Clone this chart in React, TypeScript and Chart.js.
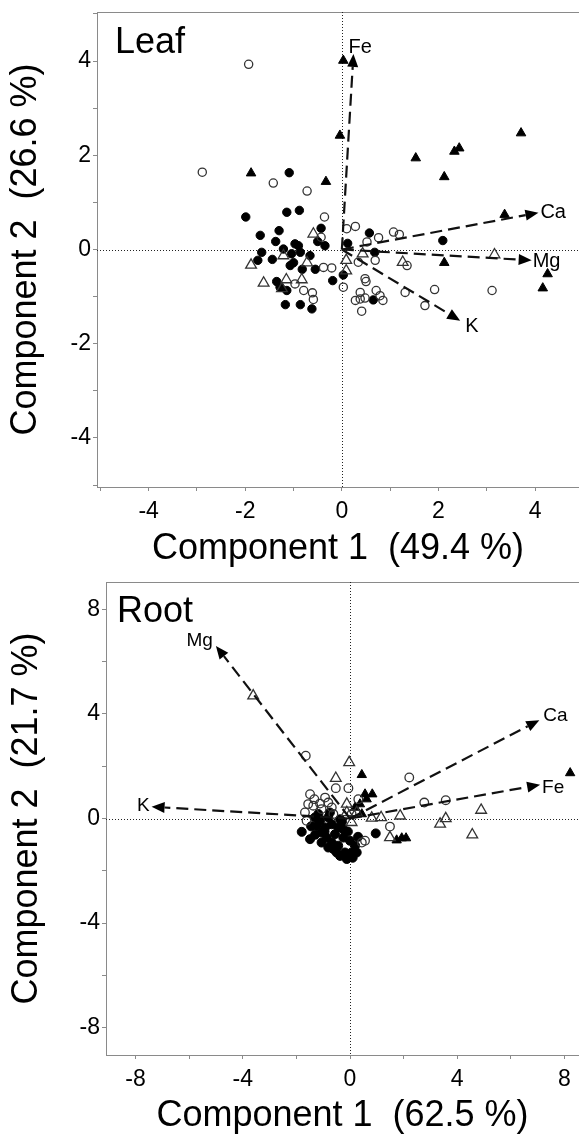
import React, { useEffect, useRef } from 'react';
import { Chart, registerables } from 'chart.js';

Chart.register(...registerables);

const FONT = "'Liberation Sans', Arial, Helvetica, sans-serif";

// ---------------- Leaf (PCA scores) ----------------
const LEAF_FILLED_CIRCLE_X = [-1.09, -1.99, -1.14, -0.88, -1.69, -1.30, -1.37, -0.43, -0.50, -0.35, -0.97, -1.21, -1.66, -1.74, -1.44, -1.04, -0.86, -0.66, -1.07, -1.00, -0.82, -0.55, -1.35, -1.28, -1.14, -1.17, -0.86, -0.62, -0.19, 0.03, 0.57, 0.12, 0.68, 2.09, 0.65, -0.90];
const LEAF_FILLED_CIRCLE_Y = [1.63, 0.69, 0.79, 0.83, 0.30, 0.40, 0.17, 0.45, 0.17, 0.08, 0.12, 0.01, -0.06, -0.23, -0.21, -0.09, -0.06, -0.13, -0.34, -0.28, -0.42, -0.42, -0.68, -0.80, -0.87, -1.17, -1.17, -1.26, -0.66, -0.54, 0.35, 0.13, -0.06, 0.19, -1.07, 0.08];

const LEAF_OPEN_CIRCLE_X = [-1.93, -2.89, -1.42, -0.72, -0.36, -0.43, -0.38, -0.21, -0.97, -0.79, -0.61, -0.59, 0.03, 0.10, 0.28, 0.76, 1.07, 1.19, 0.52, 0.69, 0.34, 1.35, 0.48, 0.38, 0.28, 0.38, 0.48, 0.79, 0.85, 0.41, 1.31, 1.72, 1.92, 3.11, 0.50, 0.71];
const LEAF_OPEN_CIRCLE_Y = [3.93, 1.64, 1.41, 1.24, 0.69, 0.26, -0.38, -0.39, -0.73, -0.87, -0.92, -1.06, -0.80, 0.44, 0.49, 0.25, 0.37, 0.32, 0.16, -0.23, -0.27, -0.34, -0.62, -0.91, -1.08, -1.05, -1.03, -0.98, -1.08, -1.31, -0.91, -1.19, -0.85, -0.87, -0.68, -0.87];

const LEAF_FILLED_TRIANGLE_X = [0.03, -0.04, -1.88, -0.33, 1.53, 2.33, 2.43, 3.71, 2.12, 3.37, 2.12, 4.26, 4.16];
const LEAF_FILLED_TRIANGLE_Y = [4.01, 2.42, 1.62, 1.44, 1.94, 2.08, 2.15, 2.47, 1.54, 0.74, -0.28, -0.52, -0.82];

const LEAF_OPEN_TRIANGLE_X = [-0.59, -1.88, -1.21, -0.72, -1.62, -1.15, -0.83, -1.24, 0.09, 0.09, 0.43, 1.26, 3.16];
const LEAF_OPEN_TRIANGLE_Y = [0.33, -0.33, -0.13, -0.28, -0.71, -0.64, -0.64, -0.83, -0.23, -0.45, -0.09, -0.27, -0.11];

// Leaf loadings (arrows)
const LEAF_VARS = ['Fe', 'Ca', 'Mg', 'K'];
const LEAF_VAR_X = [0.24, 4.07, 3.93, 2.45];
const LEAF_VAR_Y = [4.15, 0.78, -0.23, -1.51];

const LEAF_X_TICKS = [-5, -4, -3, -2, -1, 0, 1, 2, 3, 4];
const LEAF_X_LABELS = [-4, -2, 0, 2, 4];
const LEAF_Y_TICKS = [-5, -4, -3, -2, -1, 0, 1, 2, 3, 4, 5];
const LEAF_Y_LABELS = [-4, -2, 0, 2, 4];

// ---------------- Root (PCA scores) ----------------
const ROOT_FILLED_CIRCLE_X = [-1.80, -1.49, -1.18, -1.12, -1.24, -1.06, -0.93, -0.81, -0.68, -0.87, -0.68, -0.56, -0.44, -0.62, -0.25, -0.19, -0.12, 0.06, 0.19, 0.25, -0.37, -1.31, -0.44, -0.25, 0.00, -0.37, -0.75, -1.06, -0.81, 0.96, 0.10, -0.50, -1.45, -0.30, -0.08, 0.30, -0.95, -1.30];
const ROOT_FILLED_CIRCLE_Y = [-0.51, -0.79, 0.17, -0.09, -0.28, -0.54, -0.34, 0.04, -0.22, -0.73, -0.92, -0.60, -1.04, -1.17, -0.73, -1.30, -1.55, -1.30, -1.04, -1.30, -1.43, 0.04, -0.34, -0.41, -0.85, -0.03, 0.23, -0.92, -1.11, -0.57, -1.50, -1.30, -0.30, -0.12, -0.50, -0.70, -0.50, -0.62];

const ROOT_OPEN_CIRCLE_X = [-1.65, 2.21, 2.77, 3.57, -0.53, -0.06, 1.49, -1.49, -1.33, -1.56, -1.37, -1.12, -0.81, -1.06, -0.68, -1.68, -1.62, -0.62, 0.06, 0.56, 0.44, -0.93, 0.31];
const ROOT_OPEN_CIRCLE_Y = [2.40, 1.57, 0.61, 0.70, 1.16, 1.16, -0.31, 0.93, 0.74, 0.55, 0.49, 0.57, 0.61, 0.36, 0.42, 0.23, -0.09, 0.17, 0.17, -0.85, -0.92, 0.80, 0.74];

const ROOT_FILLED_TRIANGLE_X = [0.44, 8.21, 0.56, 0.83, 0.62, 0.37, 0.19, 0.44, 1.74, 1.93, 2.09];
const ROOT_FILLED_TRIANGLE_Y = [1.67, 1.74, 0.93, 0.93, 0.74, 0.55, 0.42, 0.17, -0.83, -0.75, -0.75];

const ROOT_OPEN_TRIANGLE_X = [-3.61, -0.03, -0.53, 1.87, 4.89, 3.57, 3.36, 4.56, 0.81, 1.16, 1.49, -0.12, -0.12, 0.06, 0.25];
const ROOT_OPEN_TRIANGLE_Y = [4.69, 2.14, 1.54, 0.10, 0.32, 0.00, -0.21, -0.62, 0.02, 0.04, -0.73, 0.55, 0.23, -0.15, 0.23];

// Root loadings (arrows)
const ROOT_VARS = ['Mg', 'Ca', 'Fe', 'K'];
const ROOT_VAR_X = [-5.0, 7.06, 7.09, -7.40];
const ROOT_VAR_Y = [6.6, 3.76, 1.29, 0.45];

const ROOT_X_TICKS = [-8, -6, -4, -2, 0, 2, 4, 6, 8];
const ROOT_X_LABELS = [-8, -4, 0, 4, 8];
const ROOT_Y_TICKS = [-8, -6, -4, -2, 0, 2, 4, 6, 8];
const ROOT_Y_LABELS = [-8, -4, 0, 4, 8];

// ---------------- styles ----------------
type LabelPlace = { dx: number; dy: number; align: CanvasTextAlign };

type PanelSpec = {
  width: number;
  height: number;
  title: string;
  titleDx: number;
  titleDy: number;
  xTitle: string;
  yTitle: string;
  xMin: number;
  xMax: number;
  yMin: number;
  yMax: number;
  xTicks: number[];
  xLabels: number[];
  yTicks: number[];
  yLabels: number[];
  yAxisWidth: number;
  xAxisHeight: number;
  padTop: number;
  xTitlePad: number;
  yTitlePad: number;
  groups: { x: number[]; y: number[]; style: 'circle' | 'triangle'; filled: boolean; radius: number }[];
  vars: string[];
  varX: number[];
  varY: number[];
  varPlace: LabelPlace[];
  varFont: number;
};

const zip = (xs: number[], ys: number[]) => xs.map((x, i) => ({ x, y: ys[i] }));

const LEAF_SPEC: PanelSpec = {
  width: 579,
  height: 570,
  title: 'Leaf',
  titleDx: 18,
  titleDy: 41,
  xTitle: 'Component 1  (49.4 %)',
  yTitle: 'Component 2  (26.6 %)',
  xMin: -5.07,
  xMax: 4.91,
  yMin: -5.04,
  yMax: 5.04,
  xTicks: LEAF_X_TICKS,
  xLabels: LEAF_X_LABELS,
  yTicks: LEAF_Y_TICKS,
  yLabels: LEAF_Y_LABELS,
  yAxisWidth: 97,
  xAxisHeight: 83,
  padTop: 12,
  xTitlePad: 3,
  yTitlePad: 8,
  groups: [
    { x: LEAF_OPEN_CIRCLE_X, y: LEAF_OPEN_CIRCLE_Y, style: 'circle', filled: false, radius: 4.1 },
    { x: LEAF_OPEN_TRIANGLE_X, y: LEAF_OPEN_TRIANGLE_Y, style: 'triangle', filled: false, radius: 6.2 },
    { x: LEAF_FILLED_TRIANGLE_X, y: LEAF_FILLED_TRIANGLE_Y, style: 'triangle', filled: true, radius: 5.5 },
    { x: LEAF_FILLED_CIRCLE_X, y: LEAF_FILLED_CIRCLE_Y, style: 'circle', filled: true, radius: 4.2 },
  ],
  vars: LEAF_VARS,
  varX: LEAF_VAR_X,
  varY: LEAF_VAR_Y,
  varPlace: [
    { dx: -5, dy: -1, align: 'left' },
    { dx: 2, dy: 5, align: 'left' },
    { dx: 1, dy: 7, align: 'left' },
    { dx: 5, dy: 11, align: 'left' },
  ],
  varFont: 20,
};

const ROOT_SPEC: PanelSpec = {
  width: 579,
  height: 565,
  title: 'Root',
  titleDx: 11,
  titleDy: 40,
  xTitle: 'Component 1  (62.5 %)',
  yTitle: 'Component 2  (21.7 %)',
  xMin: -9.1,
  xMax: 8.54,
  yMin: -9.045,
  yMax: 9.045,
  xTicks: ROOT_X_TICKS,
  xLabels: ROOT_X_LABELS,
  yTicks: ROOT_Y_TICKS,
  yLabels: ROOT_Y_LABELS,
  yAxisWidth: 106,
  xAxisHeight: 80,
  padTop: 12,
  xTitlePad: 1,
  yTitlePad: 9,
  groups: [
    { x: ROOT_OPEN_CIRCLE_X, y: ROOT_OPEN_CIRCLE_Y, style: 'circle', filled: false, radius: 4.3 },
    { x: ROOT_OPEN_TRIANGLE_X, y: ROOT_OPEN_TRIANGLE_Y, style: 'triangle', filled: false, radius: 6.2 },
    { x: ROOT_FILLED_TRIANGLE_X, y: ROOT_FILLED_TRIANGLE_Y, style: 'triangle', filled: true, radius: 5.4 },
    { x: ROOT_FILLED_CIRCLE_X, y: ROOT_FILLED_CIRCLE_Y, style: 'circle', filled: true, radius: 4.5 },
  ],
  vars: ROOT_VARS,
  varX: ROOT_VAR_X,
  varY: ROOT_VAR_Y,
  varPlace: [
    { dx: -3, dy: 0, align: 'right' },
    { dx: 4, dy: 1, align: 'left' },
    { dx: 2, dy: 8, align: 'left' },
    { dx: -2, dy: 4, align: 'right' },
  ],
  varFont: 19,
};

const FRAME = '#8a8a8a';

const biplotPlugin = {
  id: 'biplot',
  beforeDatasetsDraw(chart: any) {
    const { ctx, chartArea: a, scales } = chart;
    const xs = scales.x;
    const ys = scales.y;
    ctx.save();
    // top frame line
    ctx.strokeStyle = FRAME;
    ctx.lineWidth = 1;
    ctx.beginPath();
    ctx.moveTo(a.left, a.top + 0.5);
    ctx.lineTo(a.right, a.top + 0.5);
    ctx.stroke();
    // dotted zero lines
    ctx.strokeStyle = '#222';
    ctx.setLineDash([1, 2]);
    const x0 = Math.round(xs.getPixelForValue(0)) + 0.5;
    const y0 = Math.round(ys.getPixelForValue(0)) + 0.5;
    ctx.beginPath();
    ctx.moveTo(x0, a.top);
    ctx.lineTo(x0, a.bottom);
    ctx.moveTo(a.left, y0);
    ctx.lineTo(a.right, y0);
    ctx.stroke();
    ctx.restore();
  },
  afterDatasetsDraw(chart: any, _args: any, opts: any) {
    const spec: PanelSpec = opts.spec;
    const { ctx, chartArea: a, scales } = chart;
    const xs = scales.x;
    const ys = scales.y;
    ctx.save();
    const ox = xs.getPixelForValue(0);
    const oy = ys.getPixelForValue(0);
    spec.vars.forEach((name, i) => {
      const tx = xs.getPixelForValue(spec.varX[i]);
      const ty = ys.getPixelForValue(spec.varY[i]);
      const ang = Math.atan2(ty - oy, tx - ox);
      const L = 13;
      const W = 5.5;
      const bx = tx - L * Math.cos(ang);
      const by = ty - L * Math.sin(ang);
      ctx.strokeStyle = '#111';
      ctx.lineWidth = 2.2;
      ctx.setLineDash([12, 6]);
      ctx.beginPath();
      ctx.moveTo(ox, oy);
      ctx.lineTo(bx, by);
      ctx.stroke();
      ctx.setLineDash([]);
      ctx.fillStyle = '#000';
      ctx.beginPath();
      ctx.moveTo(tx, ty);
      ctx.lineTo(bx + W * Math.sin(ang), by - W * Math.cos(ang));
      ctx.lineTo(bx - W * Math.sin(ang), by + W * Math.cos(ang));
      ctx.closePath();
      ctx.fill();
      const p = spec.varPlace[i];
      ctx.font = `${spec.varFont}px ${FONT}`;
      ctx.textAlign = p.align;
      ctx.textBaseline = 'alphabetic';
      ctx.fillText(name, tx + p.dx, ty + p.dy);
    });
    // panel title
    ctx.fillStyle = '#000';
    ctx.font = `36px ${FONT}`;
    ctx.textAlign = 'left';
    ctx.textBaseline = 'alphabetic';
    ctx.fillText(spec.title, a.left + spec.titleDx, a.top + spec.titleDy);
    ctx.restore();
  },
};

function buildConfig(spec: PanelSpec): any {
  const datasets = spec.groups.map((g) => ({
    data: zip(g.x, g.y),
    pointStyle: g.style,
    pointRadius: g.radius,
    pointHoverRadius: g.radius,
    pointBackgroundColor: g.filled ? '#000' : 'rgba(255,255,255,0)',
    pointBorderColor: g.filled ? '#000' : '#333',
    pointBorderWidth: g.filled ? 1 : 1.3,
    showLine: false,
  }));
  const tickFont = { family: FONT, size: 23 };
  const titleFont = { family: FONT, size: 36, lineHeight: 1 };
  return {
    type: 'scatter',
    data: { datasets },
    plugins: [biplotPlugin],
    options: {
      responsive: false,
      maintainAspectRatio: false,
      animation: false,
      events: [],
      layout: { autoPadding: false, padding: { top: spec.padTop, right: 0, bottom: 0, left: 0 } },
      plugins: {
        legend: { display: false },
        tooltip: { enabled: false },
        biplot: { spec },
      },
      scales: {
        x: {
          type: 'linear',
          position: 'bottom',
          min: spec.xMin,
          max: spec.xMax,
          afterBuildTicks: (s: any) => {
            s.ticks = spec.xTicks.map((v) => ({ value: v }));
          },
          afterFit: (s: any) => {
            s.height = spec.xAxisHeight;
            s.paddingLeft = 0;
            s.paddingRight = 0;
            s.paddingTop = 0;
            s.paddingBottom = 0;
          },
          grid: { drawOnChartArea: false, drawTicks: true, tickLength: 4, color: FRAME, tickColor: FRAME },
          border: { display: true, color: FRAME, width: 1 },
          ticks: {
            autoSkip: false,
            maxRotation: 0,
            padding: 7,
            color: '#000',
            font: tickFont,
            callback: (v: number) => (spec.xLabels.includes(v) ? String(v) : ''),
          },
          title: {
            display: true,
            text: spec.xTitle,
            color: '#000',
            font: titleFont,
            padding: { top: 0, bottom: spec.xTitlePad },
          },
        },
        y: {
          type: 'linear',
          position: 'left',
          min: spec.yMin,
          max: spec.yMax,
          afterBuildTicks: (s: any) => {
            s.ticks = spec.yTicks.map((v) => ({ value: v }));
          },
          afterFit: (s: any) => {
            s.width = spec.yAxisWidth;
            s.paddingLeft = 0;
            s.paddingRight = 0;
            s.paddingTop = 0;
            s.paddingBottom = 0;
          },
          grid: { drawOnChartArea: false, drawTicks: true, tickLength: 4, color: FRAME, tickColor: FRAME },
          border: { display: true, color: FRAME, width: 1 },
          ticks: {
            autoSkip: false,
            padding: 2,
            color: '#000',
            font: tickFont,
            callback: (v: number) => (spec.yLabels.includes(v) ? String(v) : ''),
          },
          title: {
            display: true,
            text: spec.yTitle,
            color: '#000',
            font: titleFont,
            padding: { top: spec.yTitlePad, bottom: 0 },
          },
        },
      },
    },
  };
}

function Panel({ spec }: { spec: PanelSpec }) {
  const ref = useRef<HTMLCanvasElement>(null);
  useEffect(() => {
    if (!ref.current) return;
    const chart = new Chart(ref.current, buildConfig(spec));
    return () => chart.destroy();
  }, [spec]);
  return (
    <canvas
      ref={ref}
      width={spec.width}
      height={spec.height}
      style={{ display: 'block', width: spec.width, height: spec.height }}
    />
  );
}

export default function App() {
  return (
    <div
      style={{
        position: 'absolute',
        left: 0,
        top: 0,
        width: 579,
        height: 1135,
        overflow: 'hidden',
        background: '#fff',
      }}
    >
      <Panel spec={LEAF_SPEC} />
      <Panel spec={ROOT_SPEC} />
    </div>
  );
}
